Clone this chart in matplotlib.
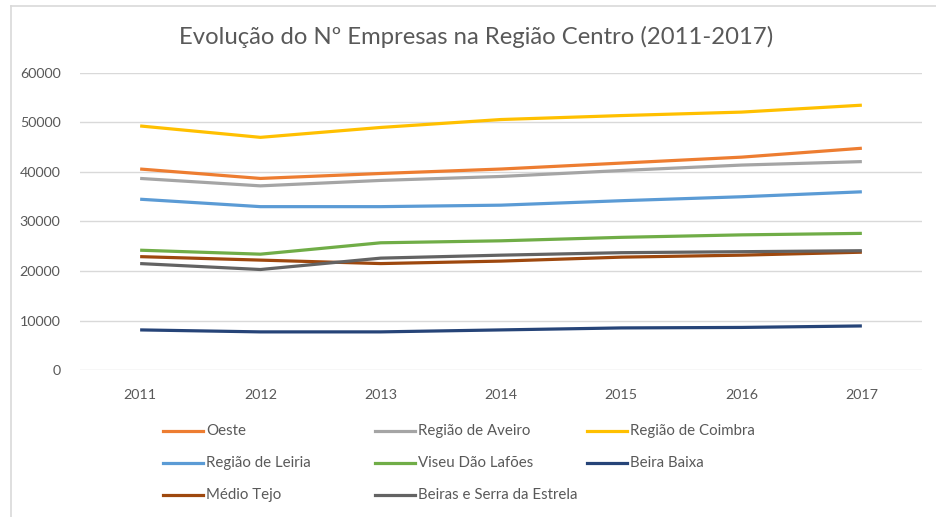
import matplotlib.pyplot as plt
from matplotlib.lines import Line2D

years = ["2011", "2012", "2013", "2014", "2015", "2016", "2017"]

oeste = [40600, 38700, 39700, 40600, 41800, 43000, 44800]
aveiro = [38700, 37200, 38300, 39100, 40300, 41400, 42100]
coimbra = [49300, 47000, 49000, 50600, 51400, 52100, 53500]
leiria = [34500, 33000, 33000, 33300, 34200, 35000, 36000]
viseu = [24200, 23400, 25700, 26100, 26800, 27300, 27600]
beira_baixa = [8100, 7700, 7700, 8100, 8500, 8600, 8900]
medio_tejo = [22900, 22200, 21500, 22000, 22800, 23200, 23800]
beiras_estrela = [21500, 20300, 22600, 23200, 23700, 23900, 24100]

series = [
    ("Oeste", oeste, "#ED7D31"),
    ("Região de Aveiro", aveiro, "#A5A5A5"),
    ("Região de Coimbra", coimbra, "#FFC000"),
    ("Região de Leiria", leiria, "#5B9BD5"),
    ("Viseu Dão Lafões", viseu, "#70AD47"),
    ("Beira Baixa", beira_baixa, "#264478"),
    ("Médio Tejo", medio_tejo, "#9E480E"),
    ("Beiras e Serra da Estrela", beiras_estrela, "#636363"),
]

plt.rcParams["font.family"] = ["Lato", "DejaVu Sans"]
W, H = 936, 517

fig = plt.figure(figsize=(W / 100, H / 100), dpi=100)
ax = fig.add_axes([80 / W, 1 - 370 / H, (922 - 80) / W, (370 - 73) / H])

x = list(range(len(years)))
for name, vals, col in series:
    ax.plot(x, vals, color=col, lw=2.3, solid_capstyle="butt")

ax.set_xlim(-0.5, len(years) - 0.5)
ax.set_ylim(0, 60000)
ax.set_yticks(range(0, 60001, 10000))
ax.set_xticks(x)
ax.set_xticklabels(years)
ax.grid(axis="y", color="#D9D9D9", lw=1)
ax.set_axisbelow(True)
for s in ax.spines.values():
    s.set_visible(False)
ax.tick_params(length=0, colors="#595959", labelsize=10.3)
ax.tick_params(axis="y", pad=14)
ax.tick_params(axis="x", pad=14)

fig.text(476 / W, 1 - 37 / H, "Evolução do Nº Empresas na Região Centro (2011-2017)",
         ha="center", va="center", fontsize=17.2, color="#595959")

# chart frame (cropped at top and left)
fig.add_artist(Line2D([11 / W, 1], [1 - 6 / H, 1 - 6 / H], color="#D9D9D9", lw=1.2))
fig.add_artist(Line2D([11 / W, 11 / W], [0, 1 - 6 / H], color="#D9D9D9", lw=1.2))

# legend, 3 columns
col_x = [163, 375, 587]
row_y = [431, 463, 495]
for i, (name, vals, col) in enumerate(series):
    cx = col_x[i % 3]
    cy = 1 - row_y[i // 3] / H
    fig.add_artist(Line2D([cx / W, (cx + 40) / W], [cy, cy], color=col, lw=2.3))
    fig.text((cx + 43) / W, cy, name, ha="left", va="center", fontsize=10.8, color="#595959")

fig.savefig("out.png", dpi=100)
